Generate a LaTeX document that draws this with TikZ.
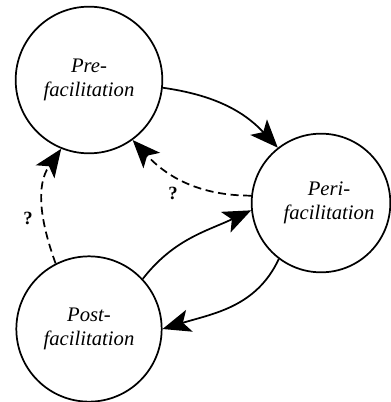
\documentclass[tikz,border=0pt]{standalone}
\usepackage{fontspec}
\setmainfont{Liberation Serif}
\newfontfamily\labelfont{Liberation Serif}
\usetikzlibrary{arrows.meta}
\begin{document}
\begin{tikzpicture}[x=0.75pt,y=-0.75pt,
  stage/.style={circle,draw,line width=1.3pt,minimum size=110pt,inner sep=0pt,align=center,
    font=\labelfont\fontsize{15.5}{18}\selectfont\itshape},
  flow/.style={line width=1.3pt,-{Stealth[length=21pt,width=17pt,inset=5pt]}},
  maybe/.style={flow,dash pattern=on 6pt off 3.5pt},
  qmark/.style={font=\labelfont\fontsize{14}{16}\selectfont\bfseries,inner sep=0pt}]
\useasboundingbox (0,0) rectangle (391,402);
\node[stage] (pre) at (89,80) {Pre-\\facilitation};
\node[stage,minimum size=104pt] (peri) at (321,203) {\hspace*{12pt}Peri-\\\hspace*{12pt}facilitation};
\node[stage,minimum size=109pt] (post) at (89,329) {Post-\\facilitation};
\draw[flow] (pre.-6) to[out=-8,in=133] (peri.128);
\draw[maybe] (peri.174) to[out=180,in=-47] (pre.-54);
\draw[flow] (post.43) to[out=52,in=-155] (peri.186);
\draw[flow] (peri.233) to[out=245,in=17] (post.0);
\draw[maybe] (post.117) to[out=110,in=-125] (pre.248);
\node[qmark] (q1) at (173,193) {?};
\node[qmark] (q2) at (28,218) {?};
\end{tikzpicture}
\end{document}
